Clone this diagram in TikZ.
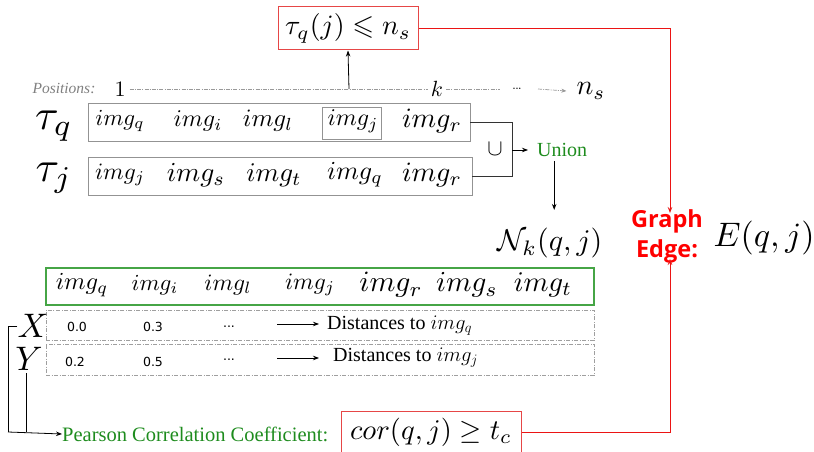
\documentclass[tikz,border=0pt]{standalone}
\usepackage{amssymb}
\usepackage{graphicx}
\usepackage{fontspec}
\newfontfamily\serifB{Liberation Serif}
\newfontfamily\sansN{DejaVu Sans}
\newfontfamily\boldS{Open Sans}
\usetikzlibrary{arrows.meta,calc}
\newcommand\MM[2]{\scalebox{#1}{$#2$}}
\definecolor{rline}{RGB}{235,20,20}
\definecolor{rbox}{RGB}{230,70,70}
\definecolor{gtext}{RGB}{30,140,30}
\definecolor{gbox}{RGB}{70,165,70}
\tikzset{
  arr/.style={-{Stealth[length=6pt,width=4.5pt]}, line width=0.8pt},
  mth/.style={inner sep=0pt},
  rowbox/.style={draw=gray!85, line width=0.9pt, inner sep=0pt},
  dashbox/.style={draw=gray!75, line width=0.8pt, dash pattern=on 4pt off 1.5pt on 1pt off 1.5pt, inner sep=0pt},
  redbox/.style={draw=rbox, line width=1pt, inner sep=0pt},
  posline/.style={draw=gray!80, line width=0.7pt, dash pattern=on 4pt off 1.2pt on 1pt off 1.2pt},
  num/.style={font=\sansN\fontsize{12.5}{15}\selectfont, inner sep=0pt},
  dist/.style={font=\serifB\fontsize{20}{24}\selectfont, inner sep=0pt, anchor=west},
  greent/.style={text=gtext, inner sep=0pt, font=\serifB\fontsize{20.5}{24}\selectfont, anchor=west},
}
\begin{document}
\begin{tikzpicture}[x=1pt,y=-1pt]
\useasboundingbox (0,0) rectangle (814,452);
% top red box
\node[redbox, minimum width=140pt, minimum height=43pt] (top) at (348,28.5) {\MM{2.8}{\tau_q(j) \leqslant n_s}};
% positions row
\node[inner sep=0pt, text=gray, font=\serifB\itshape\fontsize{15.5}{18}\selectfont] (pos) at (64,88) {Positions:};
\node[mth] (p1) at (120,89) {\MM{2.2}{1}};
\node[mth] (pk) at (437,89) {\MM{2.2}{k}};
\node[inner sep=0pt, font=\bfseries\fontsize{9}{10}\selectfont] (pd) at (517,89) {...};
\node[mth] (pn) at (591,91) {\MM{2.8}{n_s}};
\coordinate (pe) at (500,89);
\coordinate (pa) at (538,89);
\coordinate (pj) at (349,89);
\draw[posline] ([xshift=4pt]p1.east) -- ([xshift=-3pt]pk.west);
\draw[posline] ([xshift=3pt]pk.east) -- (pe);
\draw[posline, -{Stealth[length=5pt,width=4pt]}] (pa) -- ([xshift=-10pt]pn.west);
\draw[arr] (pj) -- (top.south);
% tau rows
\node[mth] (tq) at (54,126) {\MM{4.3}{\tau_q}};
\node[mth] (tj) at (54,178) {\MM{4.3}{\tau_j}};
\node[rowbox, minimum width=382pt, minimum height=38pt] (rq) at (279,122) {};
\node[rowbox, minimum width=384pt, minimum height=38pt] (rj) at (280,176) {};
\node[mth] (q1) at (120,121) {\MM{2.3}{img_q}};
\node[mth] (q2) at (198,121) {\MM{2.4}{img_i}};
\node[mth] (q3) at (268,121) {\MM{2.5}{img_l}};
\node[rowbox, line width=0.8pt, minimum width=59pt, minimum height=32pt] (q4b) at (352,123) {};
\node[mth] (q4) at (353,121) {\MM{2.4}{img_j}};
\node[mth] (q5) at (432,121) {\MM{2.8}{img_r}};
\node[mth] (j1) at (120,175) {\MM{2.35}{img_j}};
\node[mth] (j2) at (196,175) {\MM{2.75}{img_s}};
\node[mth] (j3) at (274,175) {\MM{2.7}{img_t}};
\node[mth] (j4) at (355,175) {\MM{2.6}{img_q}};
\node[mth] (j5) at (432,175) {\MM{2.8}{img_r}};
% union
\coordinate (uc) at (512,150);
\draw[line width=0.9pt, draw=black!80] (rq.east) -- (rq.east -| uc) -- (rj.east -| uc) -- (rj.east);
\node[mth] (cup) at (495,149) {\MM{2.3}{\cup}};
\node[greent, font=\serifB\fontsize{20}{24}\selectfont] (un) at (537,150) {Union};
\draw[arr] (uc) -- ([xshift=-9pt]un.west);
\node[mth] (nk) at (550,243) {\MM{3.0}{\mathcal{N}_k(q,j)}};
\draw[arr] ($(un.south)+(-8,4)$) -- ($(un.south)+(-8,53)$);
% green box
\node[draw=gbox, line width=1.2pt, minimum width=548pt, minimum height=37pt, inner sep=0pt] (gb) at (320,286.5) {};
\node[mth] (g1) at (82,285) {\MM{2.45}{img_q}};
\node[mth] (g2) at (155,285) {\MM{2.3}{img_i}};
\node[mth] (g3) at (228,285) {\MM{2.35}{img_l}};
\node[mth] (g4) at (310,285) {\MM{2.35}{img_j}};
\node[mth] (g5) at (391,285) {\MM{2.95}{img_r}};
\node[mth] (g6) at (467,285) {\MM{2.9}{img_s}};
\node[mth] (g7) at (543,285) {\MM{2.85}{img_t}};
% X / Y rows
\node[dashbox, minimum width=548pt, minimum height=30pt] (xb) at (320,325) {};
\node[dashbox, minimum width=548pt, minimum height=31pt] (yb) at (320,359.5) {};
\node[num] (x1) at (77,327) {0.0};
\node[num] (x2) at (153,327) {0.3};
\node[num] (x3) at (229,327) {...};
\node[dist] (xd) at (327,326) {Distances to $img_q$};
\coordinate (xa) at (277,324);
\draw[arr] (xa) -- ([xshift=-8pt]xd.west |- xa);
\node[num] (y1) at (75,362) {0.2};
\node[num] (y2) at (153,362) {0.5};
\node[num] (y3) at (229,360) {...};
\node[dist] (yd) at (333,358) {Distances to $img_j$};
\coordinate (ya) at (277,358);
\draw[arr] (ya) -- ([xshift=-14pt]yd.west |- ya);
\node[mth] (X) at (33,326) {\MM{3.4}{X}};
\node[mth] (Y) at (29,359) {\MM{3.4}{Y}};
% pearson
\node[greent] (pc) at (62,434) {Pearson Correlation Coefficient:};
\node[redbox, minimum width=180pt, minimum height=42pt] (cor) at (431,432) {\MM{2.85}{cor(q,j) \geq t_c}};
\coordinate (bl) at (8,432);
\coordinate (yl) at (26,432);
\coordinate (yt) at (26,373);
\draw[line width=0.9pt] (X.west) -- (X.west -| bl) -- (bl);
\draw[arr] (bl) -- (pc.west);
\draw[line width=0.9pt] (yt) -- (yl);
% graph edge
\node[inner sep=0pt, align=center, text=red, font=\boldS\bfseries\fontsize{23.5}{30}\selectfont] (ge) at (667,236) {Graph\\Edge:};
\node[mth] (E) at (764,238) {\MM{3.4}{E(q,j)}};
\draw[draw=rline, line width=1pt, -{Stealth[length=6pt,width=4.5pt]}] (top.east) -| ([xshift=3pt,yshift=-4pt]ge.north);
\draw[draw=rline, line width=1pt, -{Stealth[length=6pt,width=4.5pt]}] (cor.east) -| ([xshift=3pt,yshift=4pt]ge.south);
\end{tikzpicture}
\end{document}
